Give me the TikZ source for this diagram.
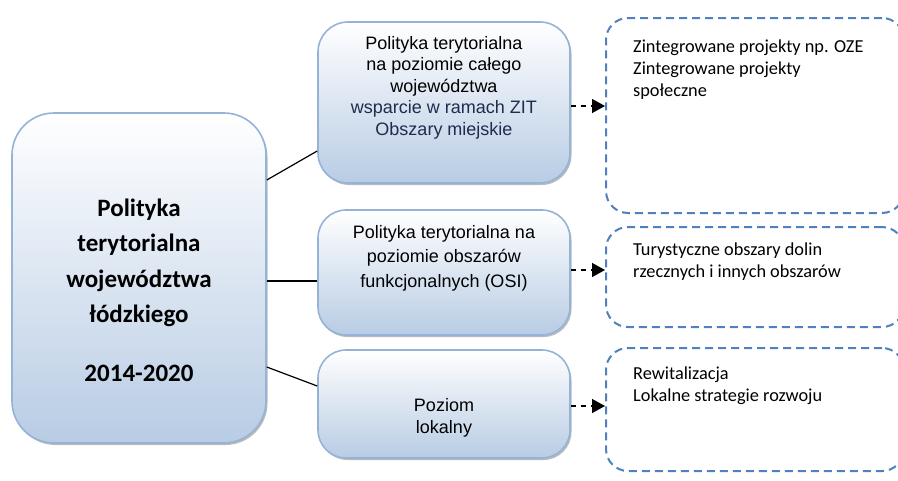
\documentclass[tikz,border=0pt]{standalone}
\usepackage{fontspec}
\setmainfont{Liberation Sans}
\newfontfamily\calibri{Carlito}
\usetikzlibrary{arrows.meta,shadows}
\definecolor{bordc}{HTML}{95B3D7}
\definecolor{fillb}{HTML}{B8CCE4}
\definecolor{dashc}{HTML}{4F81BD}
\definecolor{navy}{HTML}{202B4E}
\tikzset{
  gbox/.style={draw=bordc, line width=1.6pt, top color=white, bottom color=fillb,
    drop shadow={shadow xshift=1.5pt, shadow yshift=-2pt, fill=black!45, opacity=0.6},
    inner sep=0pt},
  dbox/.style={draw=dashc, line width=2pt, dash pattern=on 8pt off 5pt,
    rounded corners=22pt, inner sep=0pt},
  mtext/.style={font=\fontsize{18}{21.5}\selectfont, align=center, inner sep=0pt},
  rtext/.style={font=\calibri\fontsize{18.3}{22}\selectfont, align=left, inner sep=0pt, anchor=base west},
  conn/.style={line width=1.2pt, black},
  darr/.style={line width=1.4pt, black, dash pattern=on 5pt off 5pt,
    -{Triangle[length=13pt,width=14pt]}},
}
\begin{document}
\begin{tikzpicture}[x=1pt,y=-1pt]
\useasboundingbox (0,0) rectangle (898,480);
\clip (0,0) rectangle (898,480);
% big box
\node[gbox, rounded corners=42pt, minimum width=254pt, minimum height=330pt] (main) at (139,278) {};
\node[font=\calibri\bfseries\fontsize{25}{35.5}\selectfont, align=center, inner sep=0pt, anchor=base] (maintxt) at (139,381)
  {Polityka\\terytorialna\\województwa\\łódzkiego\\[23pt]2014-2020};
% middle boxes
\node[gbox, rounded corners=30pt, minimum width=252pt, minimum height=161pt] (b1) at (444,102.5) {};
\node[gbox, rounded corners=28pt, minimum width=252pt, minimum height=125pt] (b2) at (444,272.5) {};
\node[gbox, rounded corners=28pt, minimum width=252pt, minimum height=108pt] (b3) at (444,404) {};
\node[mtext, anchor=base] (t1) at (444,135)
  {Polityka terytorialna\\na poziomie całego\\województwa\\\textcolor{navy}{wsparcie w ramach ZIT}\\\textcolor{navy}{Obszary miejskie}};
\node[mtext, anchor=base, font=\fontsize{18}{24.5}\selectfont] (t2) at (444,287)
  {Polityka terytorialna na\\poziomie obszarów\\funkcjonalnych (OSI)};
\node[mtext, anchor=base] (t3) at (444,433) {Poziom\\lokalny};
% dashed boxes
\node[dbox, minimum width=298pt, minimum height=195pt] (dA) at (755,115.5) {};
\node[dbox, minimum width=298pt, minimum height=100pt] (dB) at (755,277) {};
\node[dbox, minimum width=298pt, minimum height=123pt] (dC) at (755,409.5) {};
\node[rtext] (tA) at (633,96) {Zintegrowane projekty np. OZE\\Zintegrowane projekty\\społeczne};
\node[rtext] (tB) at (633,277) {Turystyczne obszary dolin\\rzecznych i innych obszarów};
\node[rtext] (tC) at (633,401) {Rewitalizacja\\Lokalne strategie rozwoju};
% connectors
\draw[conn] (main.east |- 0,180) -- (b1.west |- 0,151);
\draw[conn] (main.east |- 0,281) -- (b2.west |- 0,281);
\draw[conn] (main.east |- 0,367) -- (b3.west |- 0,386);
% dashed arrows
\draw[darr] (b1.east |- 0,106) -- (dA.west |- 0,106);
\draw[darr] (b2.east |- 0,270) -- (dB.west |- 0,270);
\draw[darr] (b3.east |- 0,406) -- (dC.west |- 0,406);
\end{tikzpicture}
\end{document}
